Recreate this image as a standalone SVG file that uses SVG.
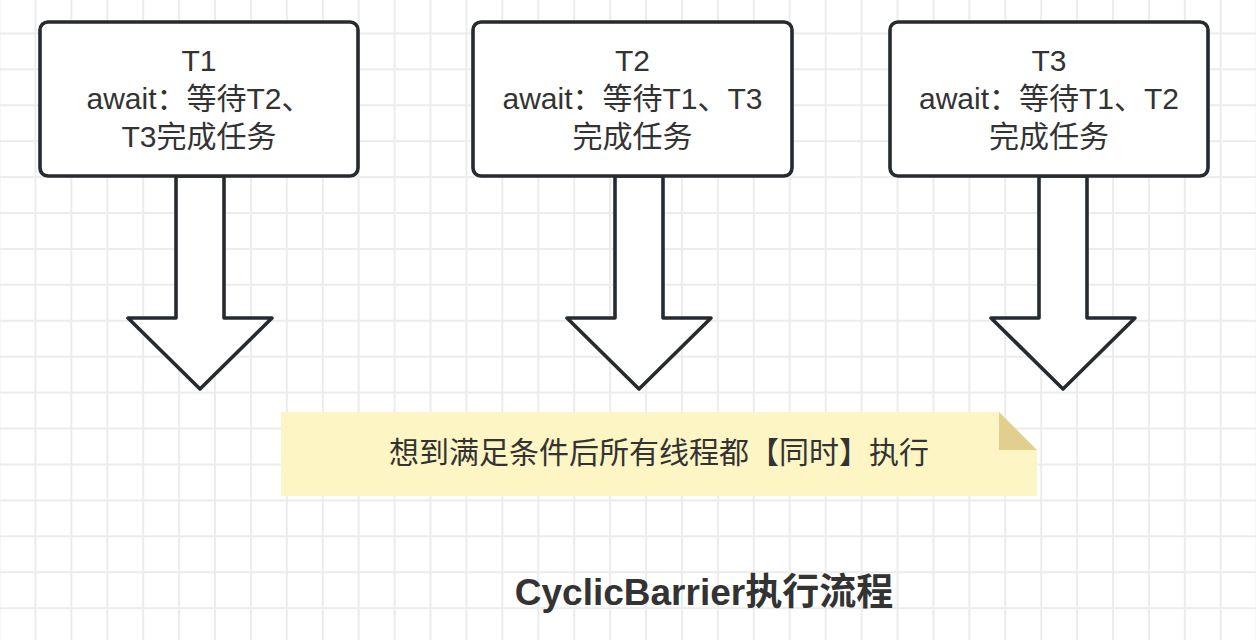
<svg xmlns="http://www.w3.org/2000/svg" width="1256" height="640" viewBox="0 0 1256 640">
  <defs>
    <pattern id="grid" patternUnits="userSpaceOnUse" x="-1.5" y="-3.5" width="35.92" height="35.92">
      <rect x="0" y="0" width="2" height="35.92" fill="#ececec"/>
      <rect x="0" y="0" width="35.92" height="2" fill="#ececec"/>
    </pattern>
    <style>
      .box { fill: #ffffff; stroke: #262b30; stroke-width: 3.6; }
      .arrow { fill: #ffffff; stroke: #262b30; stroke-width: 3.6; stroke-linejoin: round; }
      .lbl { font-family: "Liberation Sans", "Noto Sans CJK SC", sans-serif; font-size: 30px; fill: #333333; text-anchor: middle; }
      .title { font-family: "Liberation Sans", "Noto Sans CJK SC", sans-serif; font-size: 37px; font-weight: bold; fill: #333333; text-anchor: middle; }
    </style>
  </defs>
  <rect x="0" y="0" width="1256" height="640" fill="#ffffff"/>
  <rect x="0" y="0" width="1256" height="640" fill="url(#grid)"/>

  <g id="connectors">
    <polygon class="arrow" points="176,176 224,176 224,318 272,318 200,389 128,318 176,318"/>
    <polygon class="arrow" points="615,176 663,176 663,318 711,318 639,389 567,318 615,318"/>
    <polygon class="arrow" points="1039,176 1087,176 1087,318 1135,318 1063,389 991,318 1039,318"/>
  </g>

  <g id="node-t1">
    <rect class="box" x="40" y="22" width="318" height="154" rx="8"/>
    <text class="lbl" x="199" y="71">T1</text>
    <text class="lbl" x="199" y="109">await：等待T2、</text>
    <text class="lbl" x="199" y="147">T3完成任务</text>
  </g>

  <g id="node-t2">
    <rect class="box" x="473" y="22" width="319" height="154" rx="8"/>
    <text class="lbl" x="632.5" y="71">T2</text>
    <text class="lbl" x="632.5" y="109">await：等待T1、T3</text>
    <text class="lbl" x="632.5" y="147">完成任务</text>
  </g>

  <g id="node-t3">
    <rect class="box" x="890" y="22" width="318" height="154" rx="8"/>
    <text class="lbl" x="1049" y="71">T3</text>
    <text class="lbl" x="1049" y="109">await：等待T1、T2</text>
    <text class="lbl" x="1049" y="147">完成任务</text>
  </g>

  <g id="note">
    <polygon points="281,412 999,412 1037,450 1037,496 281,496" fill="#fdf5c4"/>
    <polygon points="999,412 1037,450 999,450" fill="#e0cf8e"/>
    <text class="lbl" x="659" y="463">想到满足条件后所有线程都【同时】执行</text>
  </g>

  <g id="title">
    <text class="title" x="704" y="605">CyclicBarrier执行流程</text>
  </g>
</svg>
